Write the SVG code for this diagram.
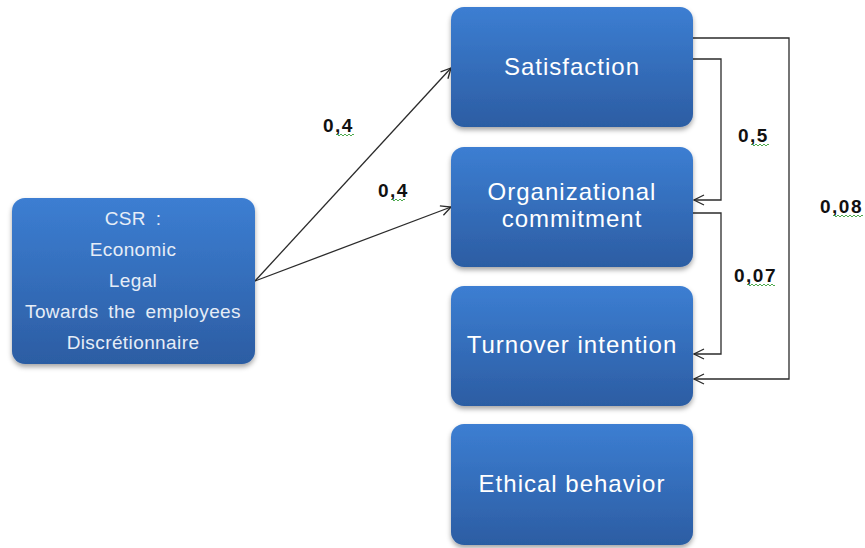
<svg xmlns="http://www.w3.org/2000/svg" width="865" height="548" viewBox="0 0 865 548">
  <style>
    .box { fill: url(#boxFill); filter: url(#shadow); }
    .title { font-family: "Liberation Sans", Arial, sans-serif; font-size: 24px; letter-spacing: 1px; fill: #ffffff; text-anchor: middle; }
    .csr { font-family: "Liberation Sans", Arial, sans-serif; font-size: 19px; letter-spacing: 0.4px; fill: #e6edf7; text-anchor: middle; word-spacing: 4px; }
    .wire { fill: none; stroke: #2b2b2b; stroke-width: 1.3; marker-end: url(#openArrow); }
    .coef { font-family: "Liberation Sans", Arial, sans-serif; font-size: 19px; font-weight: bold; letter-spacing: 1.5px; fill: #111111; }
    .squiggle { fill: none; stroke: #3aa03a; stroke-width: 0.9; }
  </style>
  <defs>
    <linearGradient id="boxFill" x1="0" y1="0" x2="0" y2="1">
      <stop offset="0" stop-color="#3c7ed2"/>
      <stop offset="1" stop-color="#2c5da3"/>
    </linearGradient>
    <filter id="shadow" x="-10%" y="-10%" width="120%" height="130%">
      <feDropShadow dx="0" dy="3" stdDeviation="2.5" flood-color="#000000" flood-opacity="0.35"/>
    </filter>
    <marker id="openArrow" viewBox="0 0 12 12" refX="11" refY="6" markerWidth="12" markerHeight="12" markerUnits="userSpaceOnUse" orient="auto">
      <path d="M1,1 L11,6 L1,11" fill="none" stroke="#2b2b2b" stroke-width="1.3"/>
    </marker>
  </defs>

  <rect width="865" height="548" fill="#ffffff"/>

  <!-- connectors -->
  <g id="connectors">
    <path class="wire" d="M255,281 L451,68"/>
    <path class="wire" d="M255,281 L451,207"/>
    <path class="wire" d="M693,59 L721,59 L721,200 L694,200"/>
    <path class="wire" d="M693,213 L721,213 L721,354 L694,354"/>
    <path class="wire" d="M693,38 L789,38 L789,379 L694,379"/>
  </g>

  <!-- coefficient labels with spell-check underlines -->
  <g id="labels">
    <text class="coef" x="323" y="132">0,4</text>
    <text class="coef" x="378" y="197">0,4</text>
    <text class="coef" x="738" y="142">0,5</text>
    <text class="coef" x="734" y="282">0,07</text>
    <text class="coef" x="820" y="213">0,08</text>
    <path class="squiggle" d="M336,135 q1,-2 2,0 t2,0 t2,0 t2,0 t2,0 t2,0 t2,0 t2,0 t2,0"/>
    <path class="squiggle" d="M391,200 q1,-2 2,0 t2,0 t2,0 t2,0 t2,0 t2,0 t2,0"/>
    <path class="squiggle" d="M751,145 q1,-2 2,0 t2,0 t2,0 t2,0 t2,0 t2,0 t2,0 t2,0 t2,0"/>
    <path class="squiggle" d="M747,285 q1,-2 2,0 t2,0 t2,0 t2,0 t2,0 t2,0 t2,0 t2,0 t2,0 t2,0 t2,0 t2,0 t2,0 t2,0"/>
    <path class="squiggle" d="M833,216 q1,-2 2,0 t2,0 t2,0 t2,0 t2,0 t2,0 t2,0 t2,0 t2,0 t2,0 t2,0 t2,0 t2,0 t2,0 t2,0"/>
  </g>

  <!-- nodes -->
  <g id="csr">
    <rect class="box" x="12" y="198" width="243" height="166" rx="13"/>
    <text class="csr" x="133" y="225">CSR :</text>
    <text class="csr" x="133" y="256">Economic</text>
    <text class="csr" x="133" y="287">Legal</text>
    <text class="csr" x="133" y="318">Towards the employees</text>
    <text class="csr" x="133" y="349">Discrétionnaire</text>
  </g>

  <g id="satisfaction">
    <rect class="box" x="451" y="7" width="242" height="120" rx="13"/>
    <text class="title" x="572" y="75">Satisfaction</text>
  </g>

  <g id="organizational-commitment">
    <rect class="box" x="451" y="147" width="242" height="120" rx="13"/>
    <text class="title" x="572" y="200">Organizational</text>
    <text class="title" x="572" y="227">commitment</text>
  </g>

  <g id="turnover-intention">
    <rect class="box" x="451" y="286" width="242" height="120" rx="13"/>
    <text class="title" x="572" y="353">Turnover intention</text>
  </g>

  <g id="ethical-behavior">
    <rect class="box" x="451" y="424" width="242" height="121" rx="13"/>
    <text class="title" x="572" y="492">Ethical behavior</text>
  </g>
</svg>
